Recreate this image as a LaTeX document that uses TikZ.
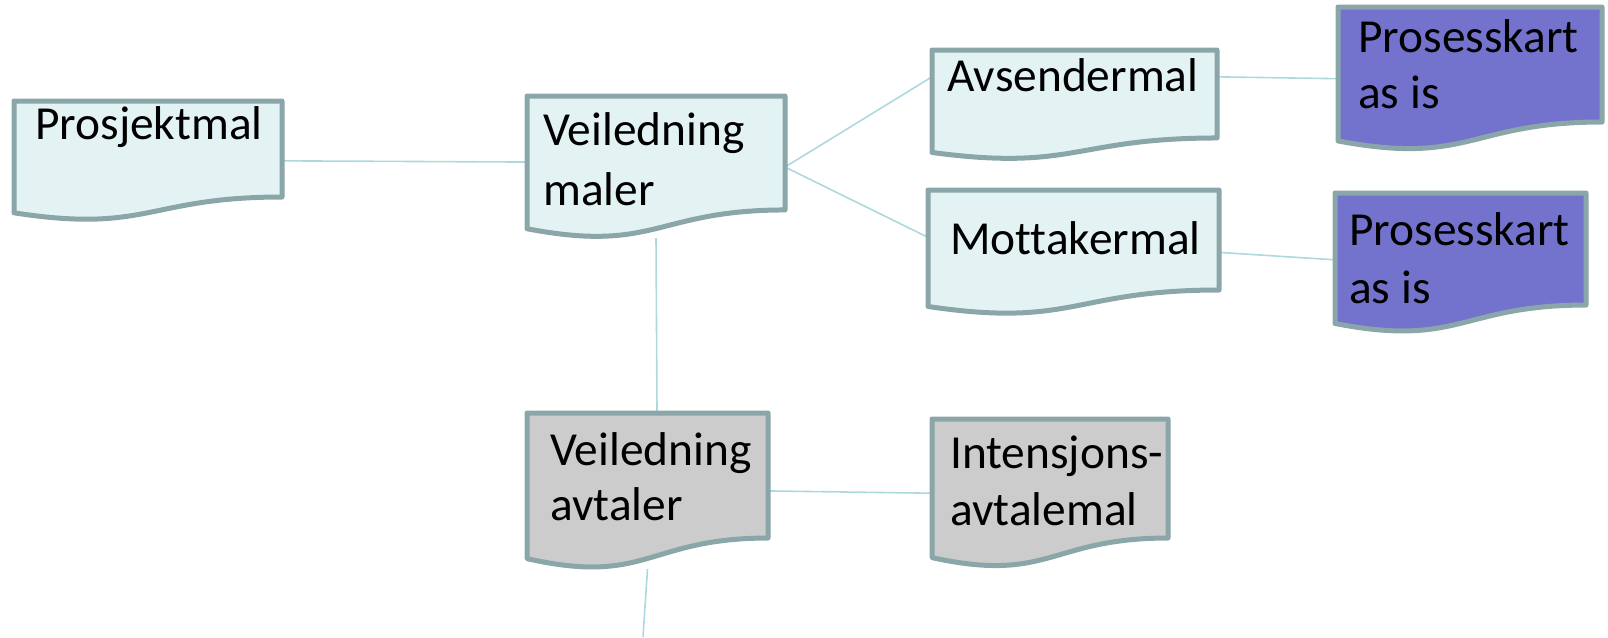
\documentclass[tikz,border=0pt]{standalone}
\usepackage{fontspec}
\setmainfont{Carlito}[Ligatures=NoCommon]
\usetikzlibrary{calc}
\definecolor{bordc}{RGB}{138,166,168}
\definecolor{lightf}{RGB}{227,243,244}
\definecolor{purpf}{RGB}{115,115,205}
\definecolor{grayf}{RGB}{204,204,204}
\definecolor{linkc}{RGB}{172,217,222}
\tikzset{
  docbox/.style={draw=none, fill=none, rectangle, inner sep=0pt, outer sep=0pt, anchor=north west},
  doctext/.style={anchor=base west, inner sep=0pt, font=\fontsize{47.4pt}{56pt}\selectfont},
  link/.style={draw=linkc, line width=1.6pt},
  docborder/.style={draw=bordc, line width=5pt, line join=round},
}
\newcommand\docshape[2]{\path[docborder, fill=#2] (#1.north west) -- (#1.north east) -- ($(#1.north east)!0.802!(#1.south east)$) .. controls ($(#1.north)!0.802!(#1.south)$) and ($(#1.north)!1.108!(#1.south)$) .. ($(#1.north west)!0.934!(#1.south west)$) -- cycle;}
\begin{document}
\begin{tikzpicture}[x=1pt,y=-1pt]
\useasboundingbox (0,0) rectangle (1608,637);
% box frames
\node[docbox, minimum width=268pt, minimum height=119.7pt] (pm) at (14,101) {};
\node[docbox, minimum width=258pt, minimum height=142.1pt] (vm) at (527,96) {};
\node[docbox, minimum width=285pt, minimum height=109.7pt] (am) at (932,50) {};
\node[docbox, minimum width=291pt, minimum height=124.7pt] (mm) at (928,190) {};
\node[docbox, minimum width=264pt, minimum height=143.4pt] (p1) at (1338,7) {};
\node[docbox, minimum width=251pt, minimum height=139.7pt] (p2) at (1335,193) {};
\node[docbox, minimum width=241pt, minimum height=155.9pt] (va) at (527,413) {};
\node[docbox, minimum width=236pt, minimum height=148.4pt] (ia) at (932,419) {};
\coordinate (vend) at (643,637);
% connectors
\draw[link] (pm.east) -- ([yshift=5pt]vm.west);
\draw[link] (vm.east) -- ([yshift=28pt]am.west);
\draw[link] (vm.east) -- ([yshift=15pt]mm.west);
\draw[link] ([yshift=28pt]am.east) -- (p1.west);
\draw[link] (mm.east) -- ([yshift=3pt]p2.west);
\draw[link] (vm.south) -- ([xshift=9.5pt]va.north);
\draw[link] (va.south) -- (vend);
\draw[link] (va.east) -- (ia.west);
% shapes
\docshape{pm}{lightf}
\docshape{vm}{lightf}
\docshape{am}{lightf}
\docshape{mm}{lightf}
\docshape{p1}{purpf}
\docshape{p2}{purpf}
\docshape{va}{grayf}
\docshape{ia}{grayf}
% texts
\node[doctext] (pmt) at (35,139) {Prosjektmal};
\node[doctext] (vmt1) at (543,145) {Veiledning};
\node[doctext] (vmt2) at (543,205) {maler};
\node[doctext] (amt) at (947,91) {Avsendermal};
\node[doctext] (mmt) at (950,254) {Mottakermal};
\node[doctext] (p1t1) at (1358,52) {Prosesskart};
\node[doctext] (p1t2) at (1358,108) {as is};
\node[doctext] (p2t1) at (1349,245) {Prosesskart};
\node[doctext] (p2t2) at (1349,303) {as is};
\node[doctext] (vat1) at (550,465) {Veiledning};
\node[doctext] (vat2) at (550,520) {avtaler};
\node[doctext] (iat1) at (950,468) {Intensjons-};
\node[doctext] (iat2) at (950,525) {avtalemal};
\end{tikzpicture}
\end{document}
